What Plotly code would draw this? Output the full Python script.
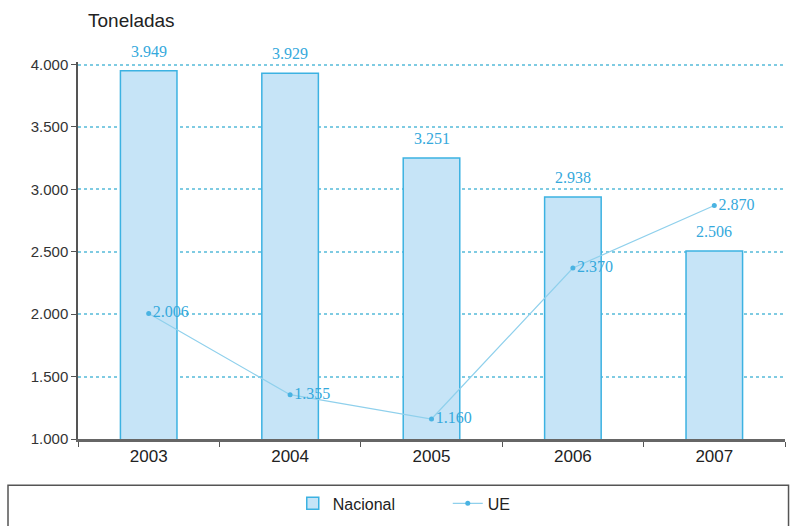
import plotly.graph_objects as go

years = ["2003", "2004", "2005", "2006", "2007"]
nacional = [3949, 3929, 3251, 2938, 2506]
ue = [2006, 1355, 1160, 2370, 2870]
y_ticks = [1000, 1500, 2000, 2500, 3000, 3500, 4000]

label_color = "#35a9dc"
serif = "Liberation Serif, Times New Roman, serif"

fig = go.Figure()
fig.add_trace(go.Bar(
    x=years, y=nacional, name="Nacional", width=0.4,
    marker=dict(color="#c6e4f7", line=dict(color="#3cb2e2", width=1.5)),
))
fig.add_trace(go.Scatter(
    x=years, y=ue, name="UE", mode="lines+markers+text",
    line=dict(color="#8fd0ec", width=1.2),
    marker=dict(color="#4ab3e2", size=5),
    texttemplate="%{y:,}", textposition="middle right", cliponaxis=False,
    textfont=dict(family=serif, size=16, color=label_color),
))

annotations = [dict(text="Toneladas", xref="paper", yref="paper", x=0.011, y=1.11,
                    xanchor="left", yanchor="middle", showarrow=False,
                    font=dict(size=19, color="#222222"))]
for i, v in enumerate(nacional):
    annotations.append(dict(x=i, y=v, xref="x", yref="y", text=f"{v:,}".replace(",", "."),
                            showarrow=False, xanchor="center", yanchor="bottom", yshift=9,
                            font=dict(family=serif, size=16, color=label_color)))

fig.update_layout(
    width=790, height=526,
    margin=dict(l=78, r=5, t=62, b=83),
    paper_bgcolor="white", plot_bgcolor="white",
    separators=",.",
    font=dict(family="Liberation Sans, Arial, sans-serif", size=14, color="#333333"),
    bargap=0.6,
    showlegend=True,
    legend=dict(orientation="h", x=0.523, xanchor="center", y=-0.171, yanchor="middle",
                font=dict(size=16, color="#222222"), bgcolor="rgba(0,0,0,0)",
                entrywidth=110),
    annotations=annotations,
    shapes=[dict(type="rect", xref="paper", yref="paper", x0=-0.099, x1=1.005, y0=-0.123, y1=-0.25,
                 line=dict(color="#555555", width=1.5), fillcolor="rgba(0,0,0,0)", layer="below")],
)
fig.update_yaxes(
    range=[1000, 4020], tickvals=y_ticks, tickformat=",d",
    showline=True, linecolor="#555555", linewidth=1.5,
    ticks="outside", ticklen=5, tickcolor="#555555",
    showgrid=True, gridcolor="#7fcbe2", griddash="dot", gridwidth=1.5,
    zeroline=False, tickfont=dict(size=15, color="#333333"),
)
fig.update_xaxes(
    type="category", range=[-0.5, len(years) - 0.5],
    showline=True, linecolor="#666666", linewidth=2.5,
    ticks="outside", tickson="boundaries", ticklen=5, tickcolor="#555555",
    showgrid=False, tickfont=dict(size=17, color="#222222"),
)

fig.write_html("out.html")
